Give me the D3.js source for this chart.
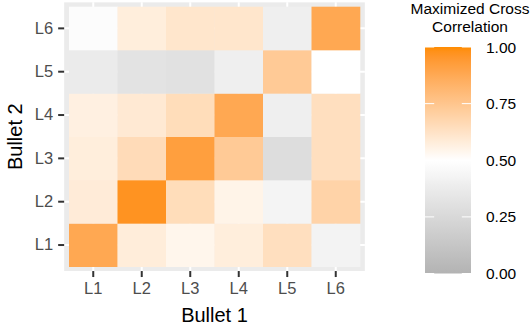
<!DOCTYPE html>
<html>
<head>
<meta charset="utf-8">
<script src="https://cdn.jsdelivr.net/npm/d3@7"></script>
<style>
  body { margin: 0; background: #fff; }
  svg text { font-family: "Liberation Sans", Arial, sans-serif; }
</style>
</head>
<body>
<div id="chart"></div>
<script>
// categories
const bullet1 = ['L1', 'L2', 'L3', 'L4', 'L5', 'L6'];
const bullet2 = ['L1', 'L2', 'L3', 'L4', 'L5', 'L6'];

// maximized cross correlation, one array per Bullet 2 level (columns = Bullet 1 L1..L6)
const rowL1 = [0.88, 0.58, 0.54, 0.575, 0.64, 0.42];
const rowL2 = [0.585, 0.97, 0.65, 0.55, 0.43, 0.69];
const rowL3 = [0.575, 0.655, 0.92, 0.73, 0.28, 0.64];
const rowL4 = [0.565, 0.595, 0.65, 0.88, 0.40, 0.64];
const rowL5 = [0.37, 0.32, 0.305, 0.40, 0.73, 0.50];
const rowL6 = [0.48, 0.575, 0.61, 0.61, 0.40, 0.88];

const legendBreaks = [0, 0.25, 0.5, 0.75, 1];

const rows = [rowL1, rowL2, rowL3, rowL4, rowL5, rowL6];
const cells = [];
rows.forEach((r, i) => {
    r.forEach((v, j) => cells.push({ b1: bullet1[j], b2: bullet2[i], value: v }));
});

const width = 531, height = 330;
const svg = d3.select('#chart').append('svg')
    .attr('width', width)
    .attr('height', height);

const x = d3.scaleBand().domain(bullet1).range([69, 360]);
const yScale = d3.scaleBand().domain(bullet2.slice().reverse()).range([6.7, 266.7]);

const color = d3.scaleLinear()
    .domain([0, 0.5, 1])
    .range(['#b3b3b3', '#ffffff', '#ff8c00'])
    .interpolate(d3.interpolateLab);

// panel background, expanded 0.6 band units like ggplot discrete scales
const padX = x.bandwidth() * 0.1, padY = yScale.bandwidth() * 0.1;
const px0 = x.range()[0] - padX, px1 = x.range()[1] + padX;
const py0 = yScale.range()[0] - padY, py1 = yScale.range()[1] + padY;

svg.append('rect')
    .attr('x', px0).attr('y', py0)
    .attr('width', px1 - px0).attr('height', py1 - py0)
    .attr('fill', '#ebebeb');

// grid lines
svg.append('g').selectAll('line')
    .data(bullet1).enter().append('line')
    .attr('x1', d => x(d) + x.bandwidth() / 2)
    .attr('x2', d => x(d) + x.bandwidth() / 2)
    .attr('y1', py0).attr('y2', py1)
    .attr('stroke', '#fff').attr('stroke-width', 2);
svg.append('g').selectAll('line')
    .data(bullet2).enter().append('line')
    .attr('y1', d => yScale(d) + yScale.bandwidth() / 2)
    .attr('y2', d => yScale(d) + yScale.bandwidth() / 2)
    .attr('x1', px0).attr('x2', px1)
    .attr('stroke', '#fff').attr('stroke-width', 2);

// tiles
svg.append('g').selectAll('rect')
    .data(cells).enter().append('rect')
    .attr('x', d => x(d.b1))
    .attr('y', d => yScale(d.b2))
    .attr('width', x.bandwidth() + 0.3)
    .attr('height', yScale.bandwidth() + 0.3)
    .attr('fill', d => color(d.value));

// axes
const xAxis = svg.append('g')
    .attr('transform', `translate(0,${py1})`)
    .call(d3.axisBottom(x).tickSize(6).tickPadding(5));
const yAxis = svg.append('g')
    .attr('transform', `translate(${px0},0)`)
    .call(d3.axisLeft(yScale).tickSize(6).tickPadding(5));

[xAxis, yAxis].forEach(a => {
    a.select('.domain').remove();
    a.selectAll('.tick line').attr('stroke', '#333').attr('stroke-width', 2);
    a.selectAll('.tick text')
        .attr('fill', '#4d4d4d')
        .style('font-size', '16.5px');
});

svg.append('text')
    .attr('x', (px0 + px1) / 2)
    .attr('y', 321.5)
    .attr('text-anchor', 'middle')
    .style('font-size', '20px')
    .text('Bullet 1');

svg.append('text')
    .attr('transform', `translate(22,${(py0 + py1) / 2}) rotate(-90)`)
    .attr('text-anchor', 'middle')
    .style('font-size', '20px')
    .text('Bullet 2');

// legend
const legX = 425, legW = 46;
const ly = d3.scaleLinear().domain([0, 1]).range([273.5, 47]);

const grad = svg.append('defs').append('linearGradient')
    .attr('id', 'lg')
    .attr('x1', 0).attr('y1', 1).attr('x2', 0).attr('y2', 0);
d3.range(0, 1.0001, 0.02).forEach(t => {
    grad.append('stop')
        .attr('offset', t)
        .attr('stop-color', color(t));
});

svg.append('rect')
    .attr('x', legX).attr('y', ly(1))
    .attr('width', legW).attr('height', ly(0) - ly(1))
    .attr('fill', 'url(#lg)');

const legTicks = svg.append('g');
legendBreaks.forEach(b => {
    legTicks.append('line')
        .attr('x1', legX).attr('x2', legX + legW / 5)
        .attr('y1', ly(b)).attr('y2', ly(b))
        .attr('stroke', '#fff').attr('stroke-width', 1);
    legTicks.append('line')
        .attr('x1', legX + legW - legW / 5).attr('x2', legX + legW)
        .attr('y1', ly(b)).attr('y2', ly(b))
        .attr('stroke', '#fff').attr('stroke-width', 1);
});

svg.append('g').selectAll('text')
    .data(legendBreaks).enter().append('text')
    .attr('x', 486)
    .attr('y', d => ly(d))
    .attr('dy', '0.36em')
    .style('font-size', '15.5px')
    .text(d => d3.format('.2f')(d));

const title = svg.append('text')
    .attr('text-anchor', 'middle')
    .style('font-size', '15.5px');
title.append('tspan').attr('x', 470).attr('y', 13.5).text('Maximized Cross');
title.append('tspan').attr('x', 470).attr('y', 31.7).text('Correlation');
</script>
</body>
</html>
